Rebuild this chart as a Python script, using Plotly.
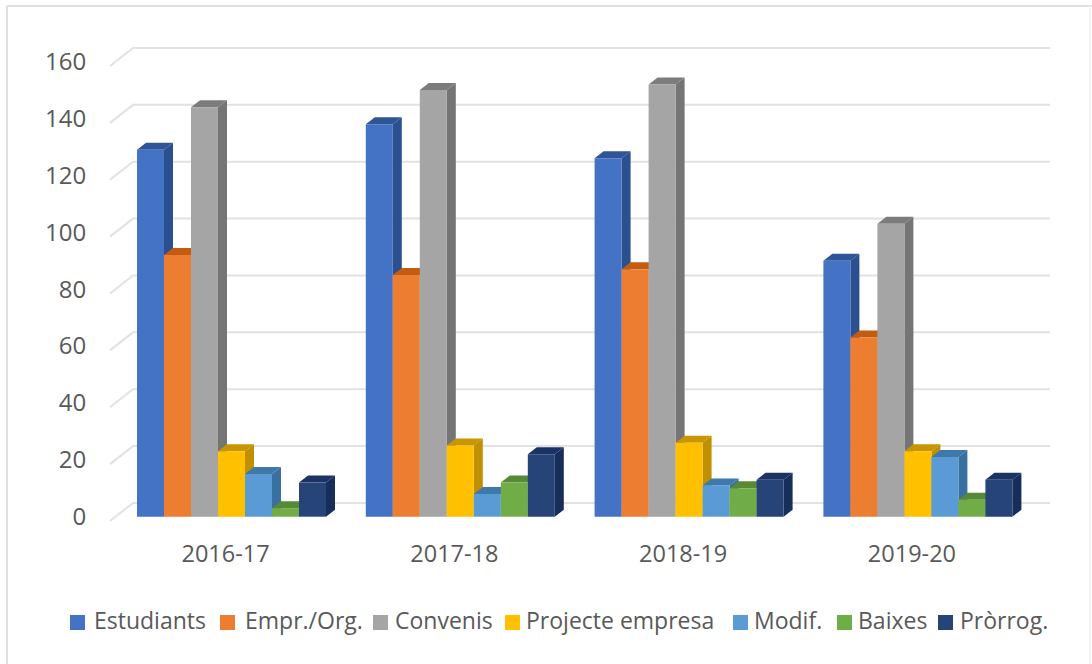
import plotly.graph_objects as go

years = ["2016-17", "2017-18", "2018-19", "2019-20"]
names = ["Estudiants", "Empr./Org.", "Convenis", "Projecte empresa", "Modif.", "Baixes", "Pròrrog."]
estudiants = [129, 138, 126, 90]
empreses = [92, 85, 87, 63]
convenis = [144, 150, 152, 103]
projecte = [23, 25, 26, 23]
modif = [15, 8, 11, 21]
baixes = [3, 12, 10, 6]
prorrog = [12, 22, 13, 13]
y_ticks = [0, 20, 40, 60, 80, 100, 120, 140, 160]

series = [estudiants, empreses, convenis, projecte, modif, baixes, prorrog]
front = ["#4472C4", "#ED7D31", "#A5A5A5", "#FFC000", "#5B9BD5", "#70AD47", "#264478"]
side = ["#2A5090", "#B85F22", "#757575", "#BF9000", "#38709F", "#548235", "#172D5A"]
top = ["#2F5597", "#C55A11", "#7C7C7C", "#C79600", "#3F78AB", "#568A36", "#1A3264"]

W, H = 1092, 664
L, R, T, B = 100, 22, 40, 134
PX_X = 228.8          # pixels per category
PX_Y = 2.844          # pixels per value unit
X0_PX = 231.5         # pixel of first category centre
Y0_PX = 516.7         # pixel of value 0 on the bar front plane
xr = [(L - X0_PX) / PX_X, (W - R - X0_PX) / PX_X]
yr = [(Y0_PX - (H - B)) / PX_Y, (Y0_PX - T) / PX_Y]

GROUP = 189 / PX_X
BW = GROUP / 7
DX = 9 / PX_X
DY = 7 / PX_Y
WALL_DY = 13.7 / PX_Y
WALL_X0 = (133 - X0_PX) / PX_X
WALL_X1 = (1050 - X0_PX) / PX_X
FRONT_X0 = (110 - X0_PX) / PX_X
FRONT_DY = -4.3 / PX_Y

def px(p):
    return (p - L) / (W - L - R)

def py(p):
    return (H - B - p) / (H - T - B)

fig = go.Figure()

# back wall gridlines with their slanted side-wall part
gx, gy = [], []
for t in y_ticks:
    gx += [FRONT_X0, WALL_X0, WALL_X1, None]
    gy += [t + FRONT_DY, t + WALL_DY, t + WALL_DY, None]
fig.add_trace(go.Scatter(x=gx, y=gy, mode="lines", line=dict(color="#E2E2E2", width=2),
                         hoverinfo="skip", showlegend=False))

# depth faces, left to right
for g in range(len(years)):
    for s, vals in enumerate(series):
        v = vals[g]
        l = g - GROUP / 2 + s * BW
        r = l + BW
        fig.add_trace(go.Scatter(x=[l, l + DX, r + DX, r, l], y=[v, v + DY, v + DY, v, v],
                                 mode="lines", fill="toself", fillcolor=top[s],
                                 line=dict(width=0), hoverinfo="skip", showlegend=False))
        fig.add_trace(go.Scatter(x=[r, r + DX, r + DX, r, r], y=[0, DY, v + DY, v, 0],
                                 mode="lines", fill="toself", fillcolor=side[s],
                                 line=dict(width=0), hoverinfo="skip", showlegend=False))

# front faces
for s, vals in enumerate(series):
    fig.add_trace(go.Bar(x=list(range(len(years))), y=vals, name=names[s],
                         marker=dict(color=front[s], line=dict(width=0)),
                         xaxis="x2", yaxis="y2", showlegend=False))

# legend drawn as squares and labels
leg_swatch = [70, 220, 373, 505, 733, 837, 938]
leg_text = [92, 243, 393, 524, 752, 856, 958]
shapes = [dict(type="rect", xref="paper", yref="paper",
               x0=px(p), x1=px(p + 15), y0=py(630), y1=py(615),
               fillcolor=front[i], line=dict(width=0))
          for i, p in enumerate(leg_swatch)]
# outer frame: top and left edges strong, right edge faint
for x0, y0, x1, y1, c in [(7, 6, 1092, 6, "#E0E0E0"), (7, 6, 7, 664, "#E0E0E0"), (1090, 6, 1090, 664, "#F3F3F3")]:
    shapes.append(dict(type="line", xref="paper", yref="paper", x0=px(x0), x1=px(x1), y0=py(y0), y1=py(y1),
                       line=dict(color=c, width=2), layer="below"))
annotations = [dict(text=n, xref="paper", yref="paper", showarrow=False, xanchor="left", yanchor="middle",
                    x=px(p), y=py(620), font=dict(family="Open Sans", size=23, color="#595959"))
               for n, p in zip(names, leg_text)]

fig.update_layout(
    width=W, height=H, margin=dict(l=L, r=R, t=T, b=B, autoexpand=False),
    paper_bgcolor="white", plot_bgcolor="rgba(0,0,0,0)",
    barmode="group", bargap=1 - GROUP, bargroupgap=0,
    showlegend=False, shapes=shapes, annotations=annotations,
    font=dict(family="Open Sans", size=22, color="#595959"),
    xaxis=dict(range=xr, tickmode="array", tickvals=[i - 0.026 for i in range(len(years))], ticktext=years,
               showgrid=False, zeroline=False, showline=False, ticks="outside", ticklen=3,
               tickcolor="rgba(0,0,0,0)", tickfont=dict(size=23.5, color="#595959")),
    yaxis=dict(range=yr, tickmode="array", tickvals=y_ticks, showgrid=False, zeroline=False, showline=False,
               ticks="outside", ticklen=8, tickcolor="rgba(0,0,0,0)", tickfont=dict(size=24, color="#595959")),
    xaxis2=dict(range=xr, overlaying="x", visible=False),
    yaxis2=dict(range=yr, overlaying="y", visible=False),
)

# the page's default body margin would shift the chart by 8 px
fig.write_html("out.html", config=dict(displayModeBar=False),
               post_script="document.body.style.margin='0';document.body.style.overflow='hidden';")
